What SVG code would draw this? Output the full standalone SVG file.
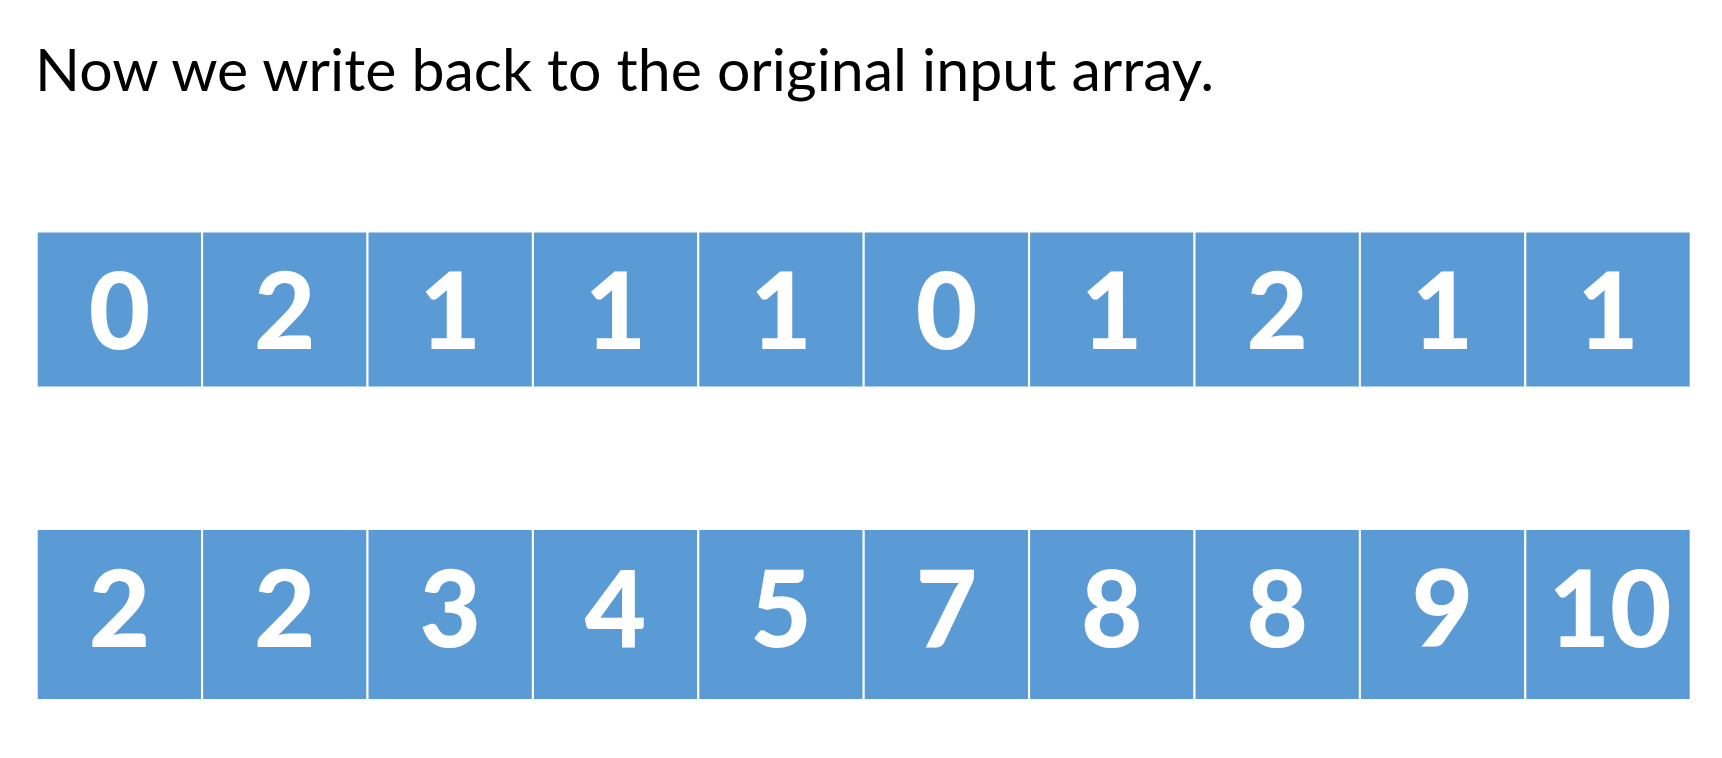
<svg xmlns="http://www.w3.org/2000/svg" width="1722" height="758" viewBox="0 0 1722 758">
<style>
.title{font-family:Lato,"Open Sans","Liberation Sans",sans-serif;font-size:59px;fill:#000}
.cell rect{fill:#5B9BD5;stroke:#ffffff;stroke-width:2}
.cell text{font-family:Lato,"Open Sans","Liberation Sans",sans-serif;font-weight:900;fill:#fff;text-anchor:middle;dominant-baseline:central}
.r1 text{font-size:106px}
.r2 text{font-size:106px}
</style>
<rect width="1722" height="758" fill="#fff"/>
<text class="title" x="35" y="91">Now we write back to the original input array.</text>
<g id="row1" class="r1">
<g id="a0" class="cell"><rect x="36.7" y="231.5" width="165.4" height="156"/><text x="119.4" y="308">0</text></g>
<g id="a1" class="cell"><rect x="202.1" y="231.5" width="165.4" height="156"/><text x="284.8" y="308">2</text></g>
<g id="a2" class="cell"><rect x="367.5" y="231.5" width="165.4" height="156"/><text x="450.2" y="308">1</text></g>
<g id="a3" class="cell"><rect x="532.9" y="231.5" width="165.4" height="156"/><text x="615.6" y="308">1</text></g>
<g id="a4" class="cell"><rect x="698.3" y="231.5" width="165.4" height="156"/><text x="781" y="308">1</text></g>
<g id="a5" class="cell"><rect x="863.7" y="231.5" width="165.4" height="156"/><text x="946.4" y="308">0</text></g>
<g id="a6" class="cell"><rect x="1029.1" y="231.5" width="165.4" height="156"/><text x="1111.8" y="308">1</text></g>
<g id="a7" class="cell"><rect x="1194.5" y="231.5" width="165.4" height="156"/><text x="1277.2" y="308">2</text></g>
<g id="a8" class="cell"><rect x="1359.9" y="231.5" width="165.4" height="156"/><text x="1442.6" y="308">1</text></g>
<g id="a9" class="cell"><rect x="1525.3" y="231.5" width="165.4" height="156"/><text x="1608" y="308">1</text></g>
</g>
<g id="row2" class="r2">
<g id="b0" class="cell"><rect x="36.7" y="529" width="165.4" height="171"/><text x="119.4" y="606">2</text></g>
<g id="b1" class="cell"><rect x="202.1" y="529" width="165.4" height="171"/><text x="284.8" y="606">2</text></g>
<g id="b2" class="cell"><rect x="367.5" y="529" width="165.4" height="171"/><text x="450.2" y="606">3</text></g>
<g id="b3" class="cell"><rect x="532.9" y="529" width="165.4" height="171"/><text x="615.6" y="606">4</text></g>
<g id="b4" class="cell"><rect x="698.3" y="529" width="165.4" height="171"/><text x="781" y="606">5</text></g>
<g id="b5" class="cell"><rect x="863.7" y="529" width="165.4" height="171"/><text x="946.4" y="606">7</text></g>
<g id="b6" class="cell"><rect x="1029.1" y="529" width="165.4" height="171"/><text x="1111.8" y="606">8</text></g>
<g id="b7" class="cell"><rect x="1194.5" y="529" width="165.4" height="171"/><text x="1277.2" y="606">8</text></g>
<g id="b8" class="cell"><rect x="1359.9" y="529" width="165.4" height="171"/><text x="1442.6" y="606">9</text></g>
<g id="b9" class="cell"><rect x="1525.3" y="529" width="165.4" height="171"/><text x="1610" y="606">10</text></g>
</g>
</svg>
